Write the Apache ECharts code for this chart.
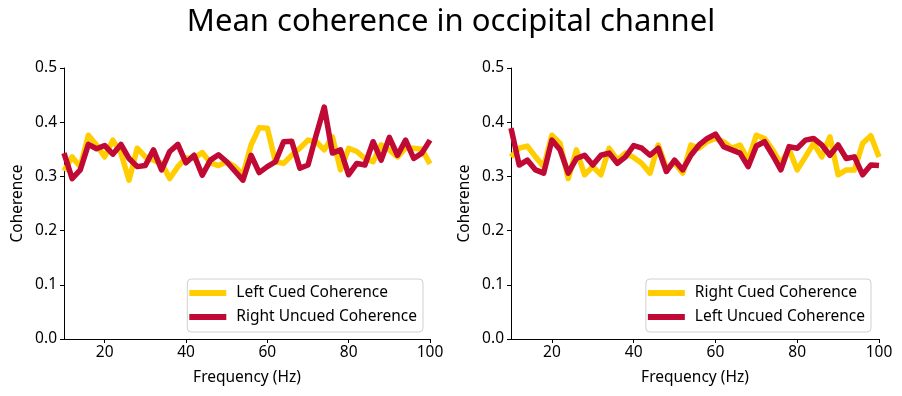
<!DOCTYPE html>
<html>
<head>
<meta charset="utf-8">
<script src="https://cdn.jsdelivr.net/npm/echarts@6/dist/echarts.min.js"></script>
<style>
  html, body { margin: 0; padding: 0; background: #fff; }
  #chart { width: 902px; height: 396px; }
</style>
</head>
<body>
<div id="chart"></div>
<script>
// frequency bins (Hz)
const freqs = [10, 12, 14, 16, 18, 20, 22, 24, 26, 28, 30, 32, 34, 36, 38, 40,
  42, 44, 46, 48, 50, 52, 54, 56, 58, 60, 62, 64, 66, 68, 70,
  72, 74, 76, 78, 80, 82, 84, 86, 88, 90, 92, 94, 96, 98, 100]

// left panel
const leftCued = [0.31, 0.336, 0.318, 0.376, 0.358, 0.336, 0.367, 0.343, 0.293, 0.352, 0.336, 0.33, 0.324, 0.296, 0.318, 0.334,
  0.333, 0.344, 0.325, 0.32, 0.327, 0.318, 0.303, 0.358, 0.39, 0.389, 0.327, 0.324, 0.339, 0.352, 0.367,
  0.364, 0.349, 0.373, 0.312, 0.352, 0.346, 0.333, 0.327, 0.358, 0.349, 0.336, 0.352, 0.352, 0.35, 0.323]
const rightUncued = [0.343, 0.296, 0.312, 0.359, 0.351, 0.357, 0.341, 0.359, 0.333, 0.318, 0.32, 0.349, 0.312, 0.346, 0.359, 0.325,
  0.339, 0.302, 0.33, 0.34, 0.327, 0.31, 0.293, 0.339, 0.307, 0.318, 0.327, 0.364, 0.365, 0.315, 0.321,
  0.376, 0.428, 0.343, 0.349, 0.303, 0.324, 0.321, 0.364, 0.33, 0.372, 0.339, 0.367, 0.333, 0.343, 0.367]

// right panel
const rightCued = [0.336, 0.352, 0.356, 0.336, 0.318, 0.376, 0.361, 0.296, 0.349, 0.303, 0.318, 0.303, 0.352, 0.33, 0.343, 0.335,
  0.324, 0.306, 0.358, 0.315, 0.325, 0.306, 0.358, 0.352, 0.364, 0.37, 0.364, 0.352, 0.358, 0.33, 0.376,
  0.37, 0.349, 0.324, 0.35, 0.312, 0.336, 0.361, 0.336, 0.373, 0.303, 0.312, 0.312, 0.361, 0.375, 0.336]
const leftUncued = [0.389, 0.321, 0.33, 0.312, 0.306, 0.367, 0.349, 0.306, 0.333, 0.339, 0.321, 0.339, 0.343, 0.324, 0.336, 0.357,
  0.352, 0.339, 0.352, 0.309, 0.33, 0.312, 0.339, 0.358, 0.37, 0.378, 0.355, 0.349, 0.343, 0.318, 0.356,
  0.364, 0.339, 0.312, 0.355, 0.352, 0.367, 0.37, 0.358, 0.339, 0.358, 0.333, 0.336, 0.303, 0.321, 0.32]

const xTicks = [20, 40, 60, 80, 100]

const YELLOW = '#ffcd00'
const RED = '#c00a35'
const FONT = 'Noto Sans'
const FS = 15.5

const pairs = vals => freqs.map((f, i) => [f, vals[i]])

function xAxis(gridIndex) {
  return {
    gridIndex,
    type: 'value',
    min: 10,
    max: 100,
    name: 'Frequency (Hz)',
    nameLocation: 'middle',
    nameGap: 31,
    nameTextStyle: { fontFamily: FONT, fontSize: FS, color: '#000' },
    axisLine: { show: true, lineStyle: { color: '#000', width: 1 } },
    axisTick: { show: true, length: 4, customValues: xTicks, lineStyle: { color: '#000' } },
    axisLabel: { customValues: xTicks, margin: 6, fontFamily: FONT, fontSize: FS, color: '#000' },
    splitLine: { show: false }
  }
}

function yAxis(gridIndex) {
  return {
    gridIndex,
    type: 'value',
    min: 0,
    max: 0.5,
    interval: 0.1,
    name: 'Coherence',
    nameLocation: 'middle',
    nameGap: 38,
    nameTextStyle: { fontFamily: FONT, fontSize: FS, color: '#000' },
    axisLine: { show: true, lineStyle: { color: '#000', width: 1 } },
    axisTick: { show: true, length: 4, lineStyle: { color: '#000' } },
    axisLabel: {
      margin: 7, fontFamily: FONT, fontSize: FS, color: '#000',
      formatter: v => v.toFixed(1)
    },
    splitLine: { show: false }
  }
}

function legend(names, right) {
  return {
    data: names,
    orient: 'vertical',
    right,
    top: 279,
    padding: [6, 6, 7, 2],
    itemGap: 8,
    itemWidth: 37,
    itemHeight: 6,
    icon: 'rect',
    backgroundColor: 'rgba(255,255,255,0.8)',
    borderColor: '#d0d0d0',
    borderWidth: 1,
    borderRadius: 4,
    textStyle: { fontFamily: FONT, fontSize: FS, color: '#000', padding: [0, 0, 0, 5] }
  }
}

function line(name, vals, color, idx) {
  return {
    name,
    type: 'line',
    xAxisIndex: idx,
    yAxisIndex: idx,
    data: pairs(vals),
    showSymbol: false,
    symbol: 'none',
    lineStyle: { color, width: 5.5, join: 'round' },
    itemStyle: { color },
    animation: false
  }
}

const chart = echarts.init(document.getElementById('chart'))
chart.setOption({
  backgroundColor: '#fff',
  animation: false,
  title: {
    text: 'Mean coherence in occipital channel',
    left: 'center',
    top: 2,
    textStyle: { fontFamily: FONT, fontSize: 31, fontWeight: 'normal', color: '#000' }
  },
  grid: [
    { left: 64, top: 68, width: 366, height: 271 },
    { left: 511, top: 68, width: 368, height: 271 }
  ],
  xAxis: [xAxis(0), xAxis(1)],
  yAxis: [yAxis(0), yAxis(1)],
  legend: [
    legend(['Left Cued Coherence', 'Right Uncued Coherence'], 479),
    legend(['Right Cued Coherence', 'Left Uncued Coherence'], 31)
  ],
  series: [
    line('Left Cued Coherence', leftCued, YELLOW, 0),
    line('Right Uncued Coherence', rightUncued, RED, 0),
    line('Right Cued Coherence', rightCued, YELLOW, 1),
    line('Left Uncued Coherence', leftUncued, RED, 1)
  ]
})
</script>
</body>
</html>
